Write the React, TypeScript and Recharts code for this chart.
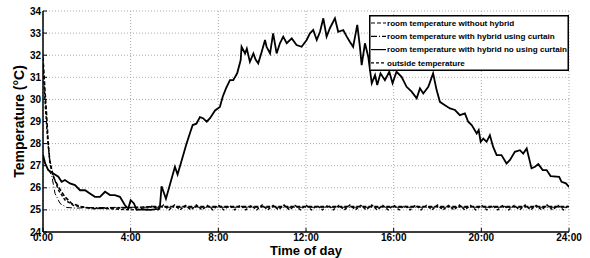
import React from 'react';
import { LineChart, Line, XAxis, YAxis, CartesianGrid, Legend } from 'recharts';

const hourTicks = [0, 4, 8, 12, 16, 20, 24];
const tempTicks = [24, 25, 26, 27, 28, 29, 30, 31, 32, 33, 34];

// room temperature without hybrid
const noHybridT = [0, 0.09, 0.17, 0.24, 0.32, 0.47, 0.7, 1.0, 1.31, 1.76, 2.3, 3, 4, 5, 8, 12, 16, 20, 24];
const noHybridV = [31.9, 30.4, 29.2, 28.0, 27.1, 26.5, 26.04, 25.59, 25.29, 25.14, 25.06, 25.08, 25.1, 25.15, 25.15, 25.15, 25.15, 25.15, 25.15];

// room temperature with hybrid using curtain
const curtainT = [0, 0.2, 0.4, 0.55, 0.78, 1.08, 1.5, 2, 4, 8, 12, 16, 20, 24];
const curtainV = [27.3, 26.9, 26.55, 25.74, 25.29, 25.11, 25.08, 25.1, 25.12, 25.12, 25.12, 25.12, 25.12, 25.12];

// room temperature with hybrid no using curtain
const noCurtainT = [
  0, 0.1, 0.24, 0.47, 0.7, 0.85, 1.0, 1.23, 1.46, 1.69, 1.92, 2.14, 2.37, 2.6, 2.83, 3.06, 3.28, 3.51, 3.74, 3.89,
  4.0, 4.15, 4.27, 4.6, 4.9, 5.3, 5.34, 5.41, 5.61, 6.02, 6.14, 6.33, 6.55, 6.7, 6.83, 7.0, 7.16, 7.3, 7.47, 7.62,
  7.85, 8.07, 8.2, 8.35, 8.53, 8.68, 8.86, 9.02, 9.06, 9.22, 9.3, 9.44, 9.6, 9.7, 9.82, 9.98, 10.13, 10.2, 10.36, 10.5,
  10.66, 10.81, 10.96, 11.12, 11.35, 11.57, 11.8, 12.03, 12.18, 12.33, 12.49, 12.64, 12.79, 12.94, 13.09, 13.32, 13.47, 13.7, 13.86, 14.0,
  14.15, 14.34, 14.46, 14.54, 14.69, 14.84, 15.0, 15.15, 15.25, 15.4, 15.6, 15.8, 15.95, 16.13, 16.36, 16.59, 16.82, 17.05, 17.2, 17.35,
  17.58, 17.8, 17.96, 18.11, 18.34, 18.57, 18.8, 19.02, 19.25, 19.4, 19.56, 19.79, 19.88, 19.97, 20.09, 20.24, 20.39, 20.54, 20.7, 20.92,
  21.15, 21.3, 21.53, 21.76, 21.91, 22.07, 22.29, 22.45, 22.6, 22.8, 22.98, 23.16, 23.55, 23.66, 23.86, 24,
];
const noCurtainV = [
  27.5, 27.1, 26.8, 26.65, 26.5, 26.27, 26.35, 26.2, 26.12, 25.89, 25.89, 25.74, 25.59, 25.59, 25.82, 25.67, 25.67, 25.59, 25.21, 25.06,
  25.44, 25.29, 25.0, 25.02, 25.0, 25.05, 25.2, 26.07, 25.5, 26.95, 26.6, 27.25, 28.0, 28.46, 28.84, 28.9, 29.2, 29.15, 28.99, 29.15,
  29.5, 29.66, 30.12, 30.5, 30.87, 30.87, 31.18, 31.78, 32.38, 32.08, 32.3, 31.7, 32.08, 31.8, 31.63, 32.16, 32.69, 32.38, 32.08, 32.99,
  32.08, 32.54, 32.84, 32.54, 32.76, 32.46, 32.38, 32.69, 32.99, 33.14, 32.69, 33.06, 33.67, 32.84, 33.22, 33.67, 33.06, 33.14, 32.84, 32.61,
  32.38, 33.37, 32.38, 31.55, 32.54, 31.93, 30.73, 31.1, 30.65, 31.18, 30.87, 31.25, 30.73, 31.25, 31.02, 30.57, 30.35, 30.05, 30.5, 30.27,
  30.57, 31.18, 30.42, 29.89, 29.74, 29.59, 29.52, 29.29, 29.37, 28.99, 28.84, 28.46, 28.61, 28.08, 28.23, 28.08, 28.38, 27.85, 27.48, 27.48,
  27.1, 27.25, 27.63, 27.7, 27.55, 27.78, 26.88, 26.95, 27.07, 26.8, 26.8, 26.53, 26.5, 26.27, 26.2, 26.04,
];

// outside temperature
const outsideT = [
  0, 0.1, 0.2, 0.3, 0.45, 0.7, 1.0, 1.4, 2, 3, 4, 4.5,
  4.75, 5, 5.25, 5.5, 5.75, 6, 6.25, 6.5, 6.75, 7, 7.25, 7.5, 7.75, 8, 8.25, 8.5, 8.75, 9, 9.25, 9.5, 9.75, 10,
  10.25, 10.5, 10.75, 11, 11.25, 11.5, 11.75, 12, 12.25, 12.5, 12.75, 13, 13.25, 13.5, 13.75, 14, 14.25, 14.5, 14.75, 15,
  15.25, 15.5, 15.75, 16, 16.25, 16.5, 16.75, 17, 17.25, 17.5, 17.75, 18, 18.25, 18.5, 18.75, 19, 19.25, 19.5, 19.75, 20,
  20.25, 20.5, 20.75, 21, 21.25, 21.5, 21.75, 22, 22.25, 22.5, 22.75, 23, 23.25, 23.5, 23.75, 24,
];
const outsideV = [
  31.5, 29.8, 28.3, 27.3, 26.6, 25.9, 25.45, 25.2, 25.1, 25.05, 25.0, 25.05,
  25.0, 25.2, 25.0, 25.22, 25.0, 25.22, 25.0, 25.2, 25.0, 25.22, 25.0, 25.2, 25.0, 25.22, 25.0, 25.2, 25.0, 25.22, 25.0, 25.2, 25.0, 25.22,
  25.0, 25.2, 25.0, 25.22, 25.0, 25.2, 25.0, 25.22, 25.0, 25.2, 25.0, 25.22, 25.0, 25.2, 25.0, 25.22, 25.0, 25.2, 25.0, 25.22,
  25.0, 25.2, 25.0, 25.22, 25.0, 25.2, 25.0, 25.22, 25.0, 25.2, 25.0, 25.22, 25.0, 25.2, 25.0, 25.22, 25.0, 25.2, 25.0, 25.22,
  25.0, 25.2, 25.0, 25.22, 25.0, 25.2, 25.0, 25.22, 25.0, 25.2, 25.0, 25.22, 25.0, 25.2, 25.0, 25.22,
];

const zip = (t: number[], v: number[]) => t.map((h, i) => ({ t: h, v: v[i] }));

const series = [
  { name: 'room temperature without hybrid', data: zip(noHybridT, noHybridV), dash: '4 2', width: 1.6 },
  { name: 'room temperature with hybrid using curtain', data: zip(curtainT, curtainV), dash: '6 2 1 2', width: 1 },
  { name: 'room temperature with hybrid no using curtain', data: zip(noCurtainT, noCurtainV), dash: undefined, width: 1.8 },
  { name: 'outside temperature', data: zip(outsideT, outsideV), dash: '3 2', width: 1.4 },
];

const font = '"Liberation Sans", Arial, sans-serif';
const tickStyle = { fontSize: 10, fontWeight: 'bold', fill: '#000', fontFamily: font };

// legend drawn as svg so the framed box shows
const LegendBox = () => (
  <svg width={200} height={56} style={{ display: 'block' }}>
    <rect x={0.75} y={0.75} width={198.5} height={54.5} fill="#fff" stroke="#000" strokeWidth={1.5} />
    {series.map((s, i) => (
      <g key={s.name} transform={`translate(0, ${8 + i * 13.3})`}>
        <line x1={2} y1={0} x2={17} y2={0} stroke="#000" strokeWidth={1.2} strokeDasharray={s.dash} />
        <text x={18} y={0} dy="0.35em" fontFamily={font} fontWeight="bold" fontSize={8.1} fill="#000">
          {s.name}
        </text>
      </g>
    ))}
  </svg>
);

export default function App() {
  return (
    <div style={{ position: 'absolute', left: 0, top: 0, background: '#fff' }}>
      <LineChart width={590} height={258} margin={{ top: 11, right: 21, bottom: 0, left: 0 }}>
        <CartesianGrid stroke="#aaa" strokeDasharray="1 2" horizontalValues={tempTicks} verticalValues={hourTicks} />
        <XAxis
          dataKey="t"
          type="number"
          domain={[0, 24]}
          ticks={hourTicks}
          tickFormatter={(h: number) => `${h}:00`}
          height={26}
          axisLine={{ stroke: '#000', strokeWidth: 1.5 }}
          tickLine={{ stroke: '#000' }}
          tickSize={-4}
          tickMargin={6}
          tick={tickStyle}
          allowDataOverflow
          label={{ value: 'Time of day', position: 'insideBottom', offset: 3, style: { fontSize: 13, fontWeight: 'bold', fill: '#000', fontFamily: font } }}
        />
        <XAxis
          xAxisId="top"
          orientation="top"
          type="number"
          domain={[0, 24]}
          ticks={hourTicks}
          height={0}
          tick={false}
          tickSize={-4}
          axisLine={{ stroke: '#000' }}
          tickLine={{ stroke: '#000' }}
        />
        <YAxis
          type="number"
          domain={[24, 34]}
          ticks={tempTicks}
          width={43}
          interval={0}
          axisLine={{ stroke: '#000', strokeWidth: 1.5 }}
          tickLine={{ stroke: '#000' }}
          tickSize={-4}
          tickMargin={6}
          tick={tickStyle}
          allowDataOverflow
          label={{ value: 'Temperature (°C)', angle: -90, position: 'center', dx: -2, style: { fontSize: 14, fontWeight: 'bold', fill: '#000', fontFamily: font, textAnchor: 'middle' } }}
        />
        <YAxis
          yAxisId="right"
          orientation="right"
          type="number"
          domain={[24, 34]}
          ticks={tempTicks}
          width={0}
          tick={false}
          tickSize={-4}
          axisLine={{ stroke: '#000' }}
          tickLine={{ stroke: '#000' }}
        />
        <Legend
          layout="vertical"
          align="center"
          verticalAlign="middle"
          content={() => <LegendBox />}
          wrapperStyle={{ top: 15, left: 369, width: 200, height: 56 }}
        />
        {series.map((s) => (
          <Line
            key={s.name}
            name={s.name}
            data={s.data}
            dataKey="v"
            type="linear"
            stroke="#000"
            strokeWidth={s.width}
            strokeDasharray={s.dash}
            dot={false}
            activeDot={false}
            isAnimationActive={false}
          />
        ))}
      </LineChart>
    </div>
  );
}
